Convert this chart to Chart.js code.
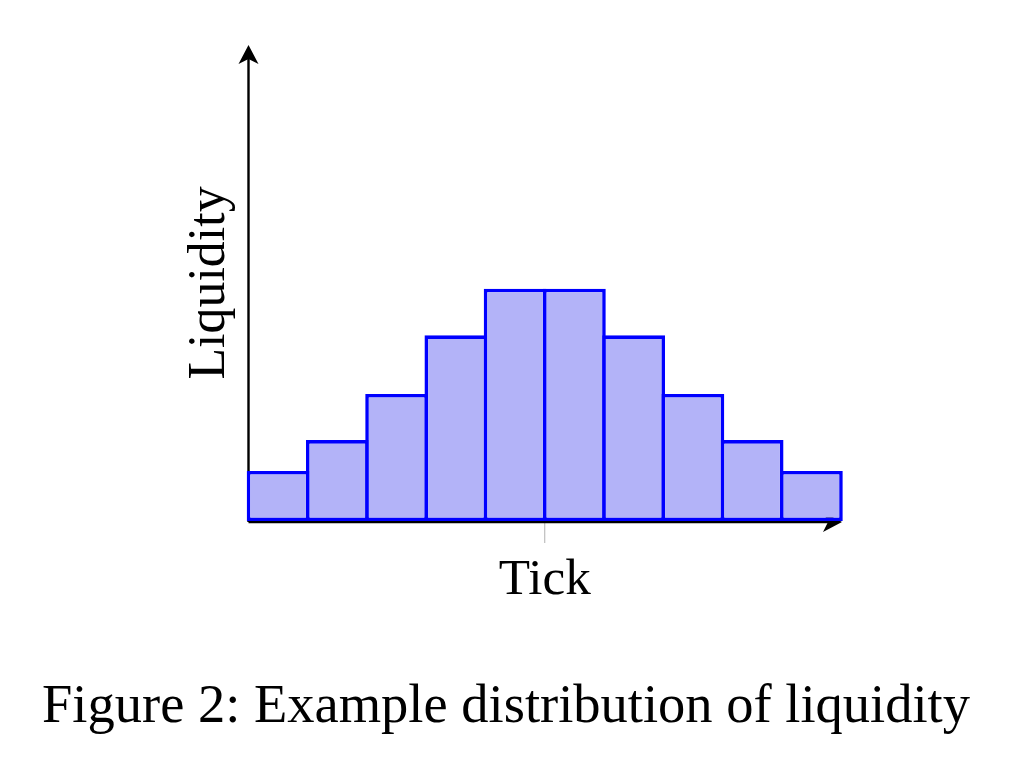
<!DOCTYPE html>
<html>
<head>
<meta charset="utf-8">
<script src="https://cdn.jsdelivr.net/npm/chart.js@4/dist/chart.umd.min.js"></script>
<style>
  html, body { margin: 0; padding: 0; background: #ffffff; }
  #wrap { width: 1024px; height: 763px; }
</style>
</head>
<body>
<div id="wrap"><canvas id="c" width="1024" height="763"></canvas></div>
<script>
// ---- data ----
const ticks = ["t1", "t2", "t3", "t4", "t5", "t6", "t7", "t8", "t9", "t10"];
const liquidity = [1.05, 1.7, 2.67, 3.9, 4.88, 4.88, 3.9, 2.67, 1.7, 1.05];
const xTitle = "Tick";
const yTitle = "Liquidity";
const caption = "Figure 2: Example distribution of liquidity";

const SERIF = '"Liberation Serif", "Times New Roman", serif';

function fitFont(ctx, text, targetWidth) {
  ctx.font = '40px ' + SERIF;
  const w = ctx.measureText(text).width;
  return 40 * targetWidth / w;
}

const axesPlugin = {
  id: 'axesPlugin',
  beforeDatasetsDraw(chart) {
    const ctx = chart.ctx;
    const a = chart.chartArea;
    const xs = chart.scales.x;
    ctx.save();
    // center tick mark (gray)
    const mid = (xs.getPixelForValue(4) + xs.getPixelForValue(5)) / 2;
    ctx.strokeStyle = '#b0b0b0';
    ctx.lineWidth = 1;
    ctx.beginPath();
    ctx.moveTo(mid, a.bottom);
    ctx.lineTo(mid, a.bottom + 22);
    ctx.stroke();
    // axis lines
    ctx.strokeStyle = '#000';
    ctx.lineWidth = 2.4;
    ctx.beginPath();
    ctx.moveTo(a.left, a.bottom + 1);
    ctx.lineTo(a.left, a.top + 12);
    ctx.moveTo(a.left, a.bottom + 1);
    ctx.lineTo(a.right - 8, a.bottom + 1);
    ctx.stroke();
    // arrow heads (stealth-like)
    ctx.fillStyle = '#000';
    ctx.beginPath();
    ctx.moveTo(a.left, a.top);
    ctx.lineTo(a.left + 10, a.top + 19);
    ctx.lineTo(a.left, a.top + 14);
    ctx.lineTo(a.left - 10, a.top + 19);
    ctx.closePath();
    ctx.fill();
    ctx.beginPath();
    ctx.moveTo(a.right + 1, a.bottom + 1);
    ctx.lineTo(a.right - 18, a.bottom + 11);
    ctx.lineTo(a.right - 13, a.bottom + 1);
    ctx.lineTo(a.right - 18, a.bottom - 9);
    ctx.closePath();
    ctx.fill();
    ctx.restore();
  },
  afterDraw(chart) {
    const ctx = chart.ctx;
    const a = chart.chartArea;
    const xs = chart.scales.x;
    const mid = (xs.getPixelForValue(4) + xs.getPixelForValue(5)) / 2;
    ctx.save();
    ctx.fillStyle = '#000';
    ctx.textAlign = 'center';
    ctx.textBaseline = 'alphabetic';
    // x title
    let fs = fitFont(ctx, xTitle, 92);
    ctx.font = fs.toFixed(1) + 'px ' + SERIF;
    ctx.fillText(xTitle, mid, a.bottom + 73);
    // y title
    fs = fitFont(ctx, yTitle, 193);
    ctx.font = fs.toFixed(1) + 'px ' + SERIF;
    ctx.save();
    ctx.translate(a.left - 25, (a.top + a.bottom) / 2 + 0);
    ctx.rotate(-Math.PI / 2);
    ctx.fillText(yTitle, 0, 0);
    ctx.restore();
    // caption
    fs = fitFont(ctx, caption, 928);
    ctx.font = fs.toFixed(1) + 'px ' + SERIF;
    ctx.fillText(caption, 506, 722);
    ctx.restore();
  }
};

new Chart(document.getElementById('c'), {
  type: 'bar',
  data: {
    labels: ticks,
    datasets: [{
      data: liquidity,
      backgroundColor: 'rgb(179,179,248)',
      borderColor: '#0000ff',
      borderWidth: 3.6,
      borderSkipped: false,
      categoryPercentage: 1.0,
      barPercentage: 1.06,
      clip: false
    }]
  },
  options: {
    responsive: false,
    devicePixelRatio: 1,
    animation: false,
    layout: { padding: { left: 248.5, right: 183, top: 45, bottom: 242 } },
    plugins: { legend: { display: false }, tooltip: { enabled: false }, title: { display: false } },
    scales: {
      x: { display: false, offset: true },
      y: { display: false, min: 0, max: 10 }
    }
  },
  plugins: [axesPlugin]
});
</script>
</body>
</html>
